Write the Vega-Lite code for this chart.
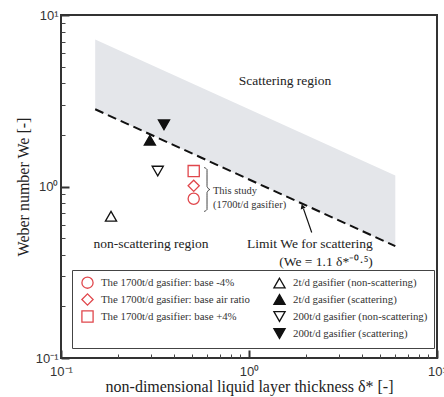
{
  "$schema": "https://vega.github.io/schema/vega-lite/v6.json",
  "width": 376,
  "height": 343,
  "autosize": "none",
  "padding": {"left": 61, "top": 15, "right": 7, "bottom": 39},
  "background": "white",
  "config": {
    "view": {"stroke": "#333", "strokeWidth": 2},
    "axis": {"domain": false, "grid": false}
  },
  "datasets": {
    "bounds": [
      {"x": 0.152, "lo": 2.82, "hi": 7.2},
      {"x": 6, "lo": 0.449, "hi": 1.16}
    ],
    "pts": [
      {"x": 0.1845, "y": 0.671, "s": "2t/d gasifier (non-scattering)"},
      {"x": 0.297, "y": 1.86, "s": "2t/d gasifier (scattering)"},
      {"x": 0.327, "y": 1.23, "s": "200t/d gasifier (non-scattering)"},
      {"x": 0.353, "y": 2.29, "s": "200t/d gasifier (scattering)"},
      {"x": 0.508, "y": 0.848, "s": "The 1700t/d gasifier: base -4%"},
      {"x": 0.508, "y": 1.01, "s": "The 1700t/d gasifier: base air ratio"},
      {"x": 0.508, "y": 1.23, "s": "The 1700t/d gasifier: base +4%"}
    ],
    "bigtext": [
      {"x": 1.554, "y": 4.1, "t": "Scattering region"},
      {"x": 0.301, "y": 0.465, "t": "non-scattering region"},
      {"x": 2.11, "y": 0.465, "t": "Limit We for scattering"},
      {"x": 2.57, "y": 0.365, "t": "(We = 1.1 δ*⁻⁰·⁵)"}
    ],
    "smalltext": [
      {"x": 0.643, "y": 0.947, "t": "This study"},
      {"x": 0.643, "y": 0.785, "t": "(1700t/d gasifier)"}
    ],
    "brace": [
      {"i": 0, "x": 0.5763, "y": 1.2906},
      {"i": 1, "x": 0.598, "y": 1.2564},
      {"i": 2, "x": 0.598, "y": 1.0},
      {"i": 3, "x": 0.62, "y": 0.9605},
      {"i": 4, "x": 0.598, "y": 0.9226},
      {"i": 5, "x": 0.598, "y": 0.7343},
      {"i": 6, "x": 0.5763, "y": 0.7149}
    ],
    "arrow": [{"x": 2.156, "y": 0.539, "x2": 1.95, "y2": 0.74}],
    "head": [{"x": 1.93, "y": 0.757}]
  },
  "layer": [
    {
      "data": {"name": "bounds"},
      "mark": {"type": "area", "color": "#e4e6ea"},
      "encoding": {
        "x": {
          "field": "x", "type": "quantitative",
          "scale": {"type": "log", "domain": [0.1, 10]},
          "axis": {
            "orient": "bottom", "values": [0.1, 1, 10], "ticks": false, "tickSize": 0,
            "labelPadding": 7, "labelFlush": false,
            "labelExpr": "datum.value < 0.5 ? '10⁻¹' : datum.value < 5 ? '10⁰' : '10¹'",
            "labelFont": "Liberation Sans", "labelFontSize": 13, "labelColor": "#333",
            "title": "non-dimensional liquid layer thickness  δ*  [-]",
            "titleFont": "Liberation Serif", "titleFontSize": 16, "titleFontWeight": "normal",
            "titleColor": "#222", "titlePadding": 0
          }
        },
        "y": {
          "field": "lo", "type": "quantitative",
          "scale": {"type": "log", "domain": [0.1, 10]},
          "axis": {
            "orient": "left", "values": [0.1, 1, 10], "ticks": false, "tickSize": 0,
            "labelPadding": 3, "labelFlush": false,
            "labelExpr": "datum.value < 0.5 ? '10⁻¹' : datum.value < 5 ? '10⁰' : '10¹'",
            "labelFont": "Liberation Sans", "labelFontSize": 13, "labelColor": "#333",
            "title": "Weber number   We   [-]",
            "titleFont": "Liberation Serif", "titleFontSize": 16, "titleFontWeight": "normal",
            "titleColor": "#222", "titlePadding": 4
          }
        },
        "y2": {"field": "hi"}
      }
    },
    {
      "data": {"name": "bounds"},
      "mark": {"type": "line", "color": "#111", "strokeWidth": 2, "strokeDash": [9, 5]},
      "encoding": {
        "x": {
          "field": "x", "type": "quantitative",
          "scale": {"type": "log", "domain": [0.1, 10]},
          "axis": {"orient": "bottom", "values": [0.1, 1, 10], "labels": false, "title": null,
                   "tickSize": -8, "tickWidth": 2, "tickColor": "#333"}
        },
        "y": {
          "field": "lo", "type": "quantitative",
          "scale": {"type": "log", "domain": [0.1, 10]},
          "axis": {"orient": "left", "values": [0.1, 1, 10], "labels": false, "title": null,
                   "tickSize": -8, "tickWidth": 2, "tickColor": "#333"}
        }
      }
    },
    {
      "data": {"name": "arrow"},
      "mark": {"type": "rule", "color": "#111", "strokeWidth": 1.2},
      "encoding": {
        "x": {"field": "x", "type": "quantitative", "scale": {"type": "log", "domain": [0.1, 10]}, "axis": null},
        "y": {"field": "y", "type": "quantitative", "scale": {"type": "log", "domain": [0.1, 10]}, "axis": null},
        "x2": {"field": "x2"},
        "y2": {"field": "y2"}
      }
    },
    {
      "data": {"name": "head"},
      "mark": {"type": "point", "shape": "triangle", "angle": 340, "filled": true, "color": "#111", "size": 28, "opacity": 1},
      "encoding": {
        "x": {"field": "x", "type": "quantitative", "scale": {"type": "log", "domain": [0.1, 10]}, "axis": null},
        "y": {"field": "y", "type": "quantitative", "scale": {"type": "log", "domain": [0.1, 10]}, "axis": null}
      }
    },
    {
      "data": {"name": "brace"},
      "mark": {"type": "line", "color": "#444", "strokeWidth": 1, "interpolate": "monotone"},
      "encoding": {
        "x": {"field": "x", "type": "quantitative", "scale": {"type": "log", "domain": [0.1, 10]}, "axis": null},
        "y": {"field": "y", "type": "quantitative", "scale": {"type": "log", "domain": [0.1, 10]}, "axis": null},
        "order": {"field": "i", "type": "quantitative"}
      }
    },
    {
      "data": {"name": "bigtext"},
      "mark": {"type": "text", "font": "Liberation Serif", "fontSize": 13.5, "color": "#222", "align": "center", "baseline": "middle"},
      "encoding": {
        "x": {"field": "x", "type": "quantitative", "scale": {"type": "log", "domain": [0.1, 10]}, "axis": null},
        "y": {"field": "y", "type": "quantitative", "scale": {"type": "log", "domain": [0.1, 10]}, "axis": null},
        "text": {"field": "t"}
      }
    },
    {
      "data": {"name": "smalltext"},
      "mark": {"type": "text", "font": "Liberation Serif", "fontSize": 10.5, "color": "#333", "align": "left", "baseline": "middle"},
      "encoding": {
        "x": {"field": "x", "type": "quantitative", "scale": {"type": "log", "domain": [0.1, 10]}, "axis": null},
        "y": {"field": "y", "type": "quantitative", "scale": {"type": "log", "domain": [0.1, 10]}, "axis": null},
        "text": {"field": "t"}
      }
    },
    {
      "data": {"name": "pts"},
      "mark": {"type": "point", "size": 125, "strokeWidth": 1.3, "opacity": 1},
      "encoding": {
        "x": {
          "field": "x", "type": "quantitative",
          "scale": {"type": "log", "domain": [0.1, 10]},
          "axis": {"orient": "bottom", "values": [0.2, 0.3, 0.4, 0.5, 0.6, 0.7, 0.8, 0.9, 2, 3, 4, 5, 6, 7, 8, 9],
                   "labels": false, "title": null, "tickSize": -4, "tickWidth": 1, "tickColor": "#444"}
        },
        "y": {
          "field": "y", "type": "quantitative",
          "scale": {"type": "log", "domain": [0.1, 10]},
          "axis": {"orient": "left", "values": [0.2, 0.3, 0.4, 0.5, 0.6, 0.7, 0.8, 0.9, 2, 3, 4, 5, 6, 7, 8, 9],
                   "labels": false, "title": null, "tickSize": -4, "tickWidth": 1, "tickColor": "#444"}
        },
        "shape": {
          "field": "s", "type": "nominal",
          "scale": {
            "domain": ["The 1700t/d gasifier: base -4%", "The 1700t/d gasifier: base air ratio", "The 1700t/d gasifier: base +4%", " ", "2t/d gasifier (non-scattering)", "2t/d gasifier (scattering)", "200t/d gasifier (non-scattering)", "200t/d gasifier (scattering)"],
            "range": ["circle", "diamond", "square", "circle", "triangle-up", "triangle-up", "triangle-down", "triangle-down"]
          },
          "legend": {
            "title": null, "orient": "none", "legendX": 11, "legendY": 255,
            "columns": 2, "columnPadding": 19, "rowPadding": 0,
            "padding": 6, "strokeColor": "#444", "fillColor": "white",
            "symbolSize": 125, "symbolStrokeWidth": 1.3, "symbolOffset": 3,
            "labelFont": "Liberation Serif", "labelFontSize": 10.8, "labelColor": "#333",
            "labelOffset": 7, "labelLimit": 300
          }
        },
        "stroke": {
          "field": "s", "type": "nominal",
          "scale": {
            "domain": ["The 1700t/d gasifier: base -4%", "The 1700t/d gasifier: base air ratio", "The 1700t/d gasifier: base +4%", " ", "2t/d gasifier (non-scattering)", "2t/d gasifier (scattering)", "200t/d gasifier (non-scattering)", "200t/d gasifier (scattering)"],
            "range": ["#e0474c", "#e0474c", "#e0474c", "transparent", "#111111", "#111111", "#111111", "#111111"]
          }
        },
        "fill": {
          "field": "s", "type": "nominal",
          "scale": {
            "domain": ["The 1700t/d gasifier: base -4%", "The 1700t/d gasifier: base air ratio", "The 1700t/d gasifier: base +4%", " ", "2t/d gasifier (non-scattering)", "2t/d gasifier (scattering)", "200t/d gasifier (non-scattering)", "200t/d gasifier (scattering)"],
            "range": ["transparent", "transparent", "transparent", "transparent", "transparent", "#111111", "transparent", "#111111"]
          }
        }
      }
    }
  ],
  "resolve": {"axis": {"x": "independent", "y": "independent"}}
}
